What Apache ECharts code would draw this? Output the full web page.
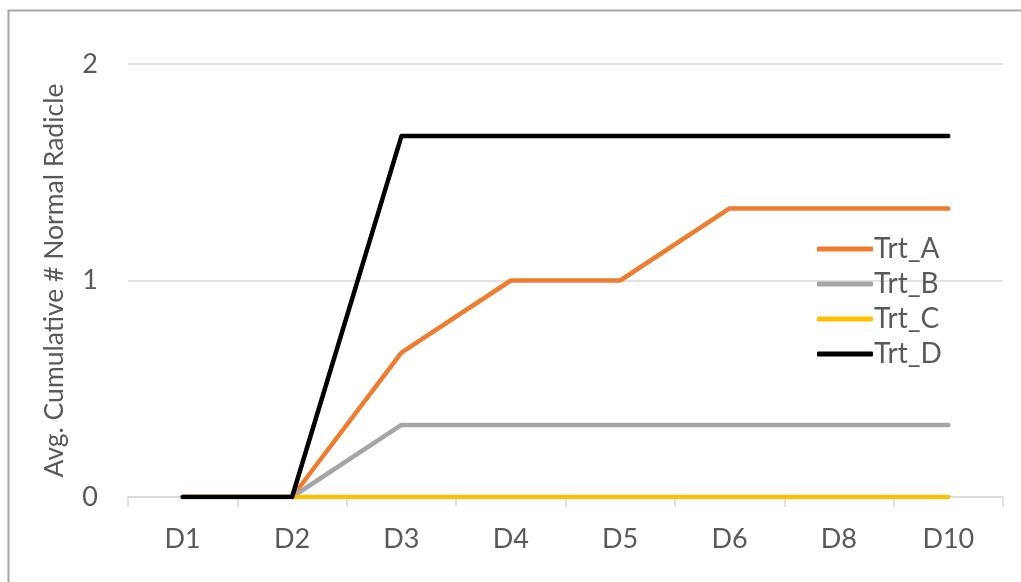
<!DOCTYPE html>
<html>
<head>
<meta charset="utf-8">
<script src="https://cdn.jsdelivr.net/npm/echarts@6/dist/echarts.min.js"></script>
<style>
html,body{margin:0;padding:0;background:#fff;}
#chart{width:1021px;height:582px;}
</style>
</head>
<body>
<div id="chart"></div>
<script>
const categories = ['D1','D2','D3','D4','D5','D6','D8','D10'];
const trtA = [0, 0, 0.667, 1, 1, 1.333, 1.333, 1.333];
const trtB = [0, 0, 0.333, 0.333, 0.333, 0.333, 0.333, 0.333];
const trtC = [0, 0, 0, 0, 0, 0, 0, 0];
const trtD = [0, 0, 1.667, 1.667, 1.667, 1.667, 1.667, 1.667];
const seriesNames = ['Trt_A','Trt_B','Trt_C','Trt_D'];
const seriesColors = ['#ED7D31','#A5A5A5','#FFC000','#000000'];
const yTitle = 'Avg. Cumulative # Normal Radicle';

const FONT = 'Lato';
const TXT = '#595959';
const chart = echarts.init(document.getElementById('chart'), null, {renderer:'canvas'});
const dataSets = [trtA, trtB, trtC, trtD];
chart.setOption({
  animation: false,
  backgroundColor: '#fff',
  graphic: [{
    type: 'rect', left: 6, top: 8, z: -1,
    shape: {width: 1100, height: 700},
    style: {fill: 'none', stroke: '#a6a6a6', lineWidth: 2}
  }],
  grid: {left: 128, right: 18, top: 64, bottom: 85},
  legend: {
    orient: 'vertical', left: 812, top: 230,
    itemWidth: 56, itemHeight: 5, itemGap: 7,
    icon: 'roundRect',
    textStyle: {fontFamily: FONT, fontSize: 28, color: TXT, padding: [0,0,0,-4]},
    data: seriesNames
  },
  xAxis: {
    type: 'category', data: categories, boundaryGap: true,
    axisLine: {lineStyle: {color: '#d9d9d9', width: 1.5}},
    axisTick: {show: true, length: 10, lineStyle: {color: '#d9d9d9', width: 1.5}},
    axisLabel: {fontFamily: FONT, fontSize: 27, color: TXT, margin: 29}
  },
  yAxis: {
    type: 'value', min: 0, max: 2, interval: 1,
    name: yTitle, nameLocation: 'middle', nameGap: 60, nameRotate: 90,
    nameTextStyle: {fontFamily: FONT, fontSize: 26.5, color: TXT},
    axisLine: {show: false}, axisTick: {show: false},
    axisLabel: {fontFamily: FONT, fontSize: 27, color: TXT, margin: 30},
    splitLine: {lineStyle: {color: '#d9d9d9', width: 1.5}}
  },
  series: seriesNames.map((n, i) => ({
    name: n, type: 'line', data: dataSets[i],
    symbol: 'none', color: seriesColors[i],
    lineStyle: {width: 4.5, color: seriesColors[i], cap: 'round', join: 'round'}
  }))
});
</script>
</body>
</html>
